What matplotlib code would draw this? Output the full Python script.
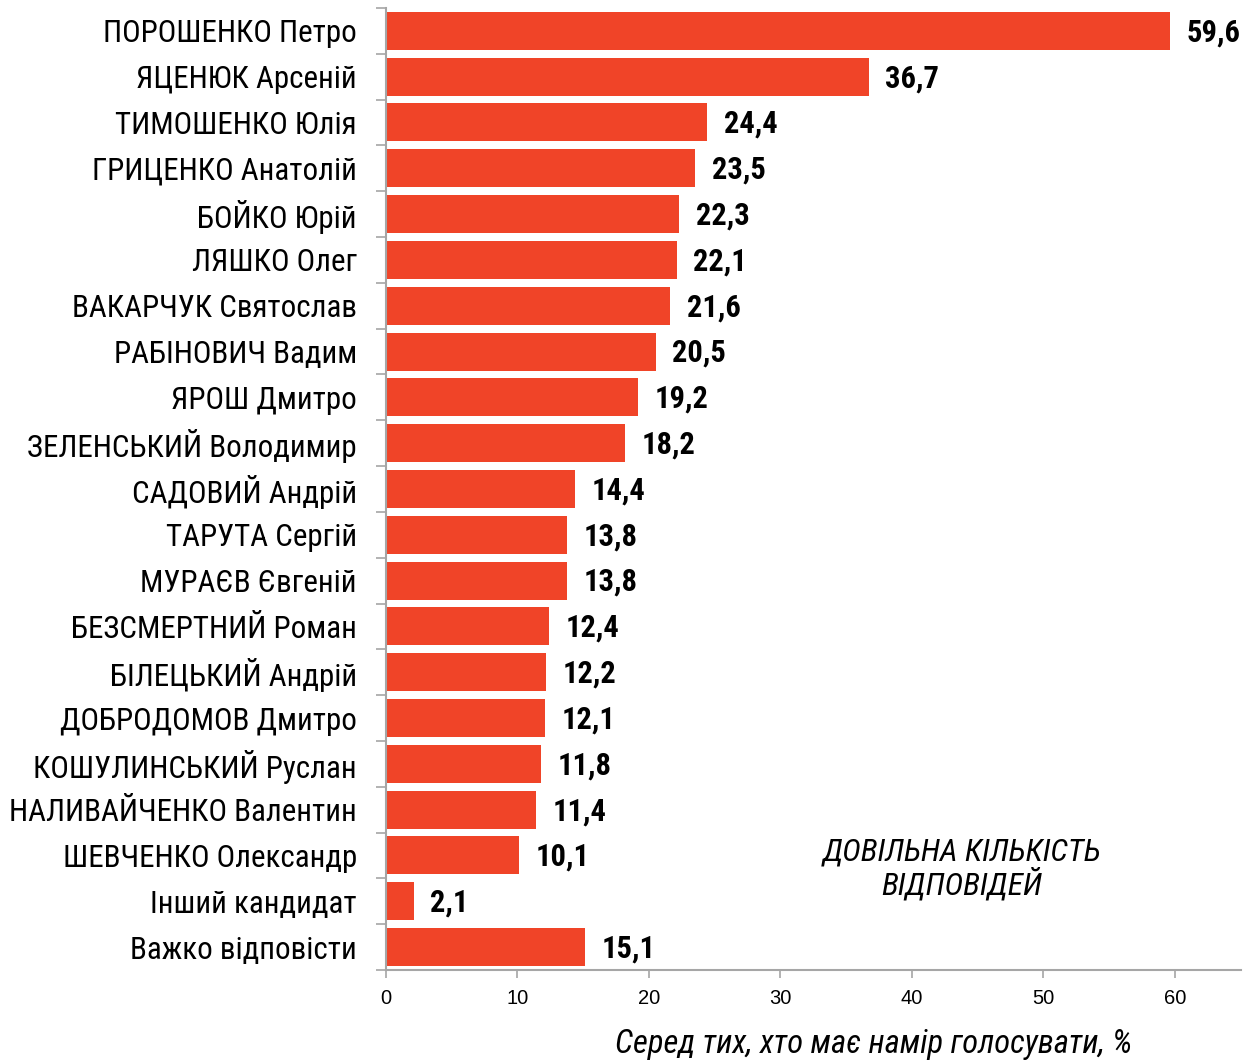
import matplotlib.pyplot as plt
from matplotlib import font_manager

names = ["ПОРОШЕНКО Петро", "ЯЦЕНЮК Арсеній", "ТИМОШЕНКО Юлія", "ГРИЦЕНКО Анатолій",
         "БОЙКО Юрій", "ЛЯШКО Олег", "ВАКАРЧУК Святослав", "РАБІНОВИЧ Вадим",
         "ЯРОШ Дмитро", "ЗЕЛЕНСЬКИЙ Володимир", "САДОВИЙ Андрій", "ТАРУТА Сергій",
         "МУРАЄВ Євгеній", "БЕЗСМЕРТНИЙ Роман", "БІЛЕЦЬКИЙ Андрій",
         "ДОБРОДОМОВ Дмитро", "КОШУЛИНСЬКИЙ Руслан", "НАЛИВАЙЧЕНКО Валентин",
         "ШЕВЧЕНКО Олександр", "Інший кандидат", "Важко відповісти"]
values = [59.6, 36.7, 24.4, 23.5, 22.3, 22.1, 21.6, 20.5, 19.2, 18.2, 14.4, 13.8,
          13.8, 12.4, 12.2, 12.1, 11.8, 11.4, 10.1, 2.1, 15.1]
xticks = [0, 10, 20, 30, 40, 50, 60]

# condensed face similar to Arial Narrow, fall back if missing
avail = {f.name for f in font_manager.fontManager.ttflist}
narrow = "Liberation Sans"
for cand in ["Roboto Condensed", "PT Sans Narrow", "Liberation Sans Narrow"]:
    if cand in avail:
        narrow = cand
        break

bar_color = "#F04428"
axis_color = "#A6A6A6"

fig = plt.figure(figsize=(12.43, 10.6), dpi=100)
ax = fig.add_axes([0.3105, 0.0849, 0.6877, 0.9076])

y = list(range(len(names)))
ax.barh(y, values, height=0.83, color=bar_color, edgecolor="none")
ax.set_ylim(len(names) - 0.5, -0.5)
ax.set_xlim(0, 65)

for yi, v in zip(y, values):
    ax.annotate(f"{v:.1f}".replace(".", ","), xy=(v, yi), xytext=(12, -1),
                textcoords="offset points", va="center", ha="left",
                fontsize=22, fontweight="bold", family=narrow)

ax.set_yticks(y)
ax.set_yticklabels(names, family=narrow, fontsize=22.3)
ax.set_yticks([i + 0.5 for i in range(-1, len(names))], minor=True)
ax.tick_params(axis="y", which="major", length=0, pad=21)
ax.tick_params(axis="y", which="minor", length=7, color=axis_color, width=1.2)

ax.set_xticks(xticks)
ax.set_xticklabels([str(t) for t in xticks], family="Liberation Sans", fontsize=14.5)
ax.tick_params(axis="x", length=6, color=axis_color, width=1.2, pad=8)

for s in ["top", "right"]:
    ax.spines[s].set_visible(False)
for s in ["left", "bottom"]:
    ax.spines[s].set_color(axis_color)
    ax.spines[s].set_linewidth(1.5)

ax.set_xlabel("Серед тих, хто має намір голосувати, %", family=narrow, style="italic",
              fontsize=23.5)
ax.xaxis.set_label_coords(0.57, -0.06)

ax.text(0.674, 0.105, "ДОВІЛЬНА КІЛЬКІСТЬ\nВІДПОВІДЕЙ", transform=ax.transAxes,
        ha="center", va="center", family=narrow, style="italic", fontsize=22.8,
        linespacing=1.05)

plt.savefig("out.png", dpi=100)
